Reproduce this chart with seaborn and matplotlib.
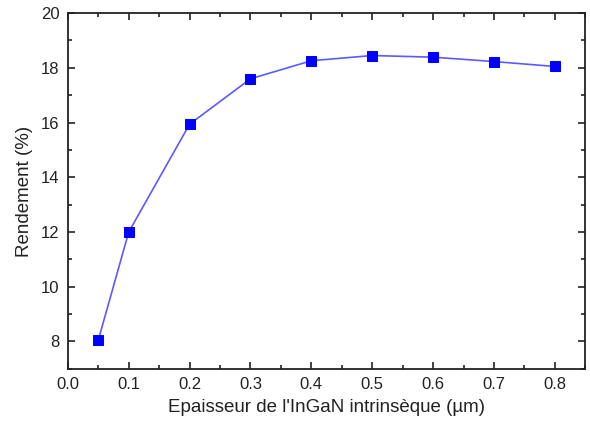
import pandas as pd
import matplotlib.pyplot as plt
import seaborn as sns
from matplotlib.ticker import MultipleLocator

# Thickness of intrinsic InGaN layer (um) and efficiency (%)
thickness = [0.05, 0.1, 0.2, 0.3, 0.4, 0.5, 0.6, 0.7, 0.8]
efficiency = [8.05, 12.0, 15.94, 17.6, 18.26, 18.45, 18.39, 18.23, 18.05]

df = pd.DataFrame({'Epaisseur': thickness, 'Rendement': efficiency})

sns.set_style('ticks')
plt.rcParams['font.family'] = ['Liberation Sans', 'DejaVu Sans']

fig = plt.figure(figsize=(5.9, 4.23), dpi=100)
ax = fig.add_axes([0.115, 0.128, 0.877, 0.841])

sns.lineplot(data=df, x='Epaisseur', y='Rendement', ax=ax,
             color='#5a5aff', linewidth=1.2, marker='s', markersize=6.5,
             markerfacecolor='#0000ff', markeredgecolor='#0000ff')

ax.set_xlim(0.0, 0.85)
ax.set_ylim(7, 20)
ax.xaxis.set_minor_locator(MultipleLocator(0.05))
ax.yaxis.set_minor_locator(MultipleLocator(1))
ax.set_xticks([0.0, 0.1, 0.2, 0.3, 0.4, 0.5, 0.6, 0.7, 0.8])
ax.set_xticklabels(['0.0', '0.1', '0.2', '0.3', '0.4', '0.5', '0.6', '0.7', '0.8'])
ax.set_yticks([8, 10, 12, 14, 16, 18, 20])
ax.set_yticklabels(['8', '10', '12', '14', '16', '18', '20'])

ax.tick_params(which='both', direction='in', top=True, right=True,
               labeltop=False, labelright=False, width=1.2, color='#222222')
ax.tick_params(which='major', length=5, labelsize=12, pad=6, labelcolor='#222222')
ax.tick_params(which='minor', length=3)
for sp in ax.spines.values():
    sp.set_linewidth(1.3)
    sp.set_color('#222222')

ax.set_xlabel("Epaisseur de l'InGaN intrinsèque (µm)", fontsize=13.5, color='#222222', labelpad=5)
ax.set_ylabel('Rendement (%)', fontsize=13.5, color='#222222', labelpad=6)

fig.savefig('out.png', dpi=100)
